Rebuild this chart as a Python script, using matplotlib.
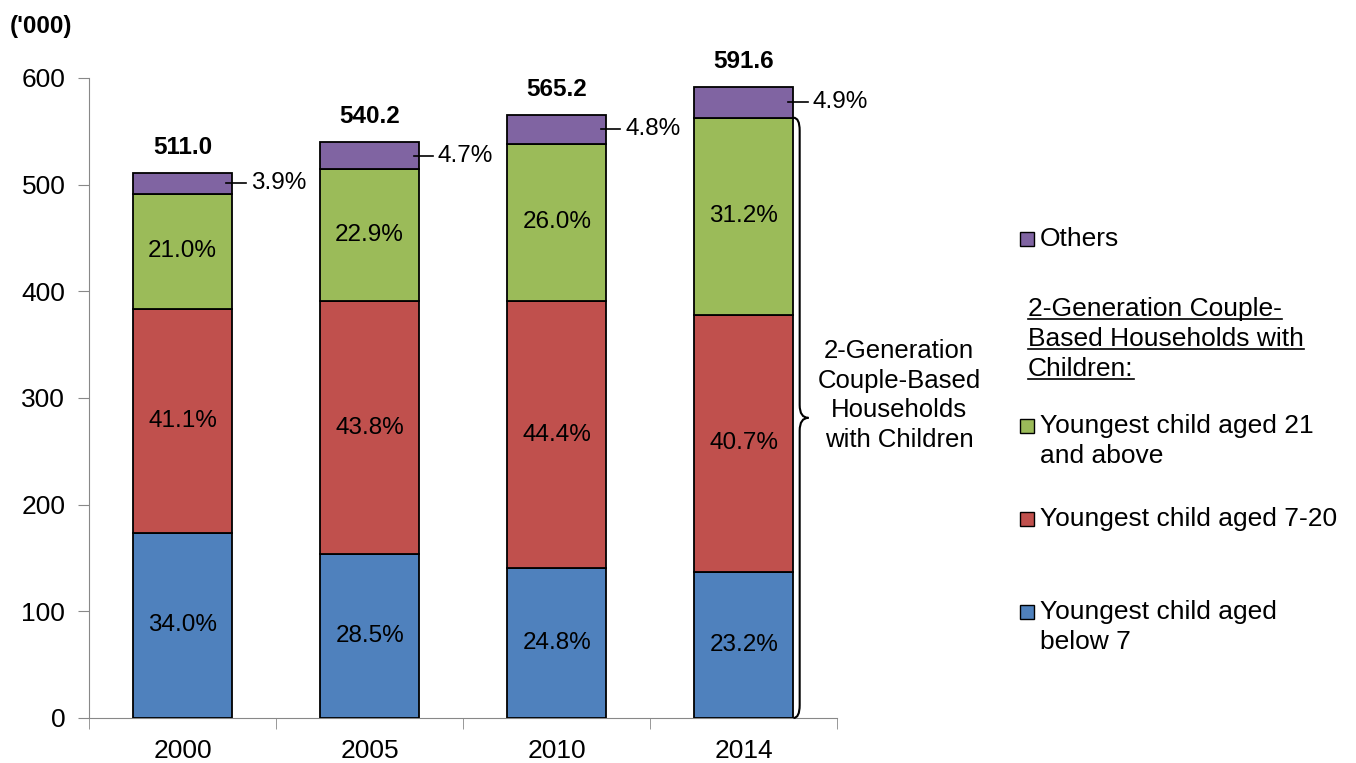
import numpy as np
import matplotlib.pyplot as plt
from matplotlib.path import Path
from matplotlib.patches import PathPatch, Rectangle

plt.rcParams['font.family'] = ['Liberation Sans', 'DejaVu Sans']

years = ['2000', '2005', '2010', '2014']
totals = [511.0, 540.2, 565.2, 591.6]
# shares in %
below7 = [34.0, 28.5, 24.8, 23.2]
aged7_20 = [41.1, 43.8, 44.4, 40.7]
aged21 = [21.0, 22.9, 26.0, 31.2]
others = [3.9, 4.7, 4.8, 4.9]

names = ['Youngest child aged\nbelow 7', 'Youngest child aged 7-20',
         'Youngest child aged 21\nand above', 'Others']
colors = ['#4F81BD', '#C0504D', '#9BBB59', '#8064A2']

fig = plt.figure(figsize=(13.56, 7.63), dpi=100)
ax = fig.add_axes([0.0656, 0.059, 0.552, 0.839])

x = np.arange(len(years))
w = 0.53
tot = np.array(totals)
bottom = np.zeros(len(years))
for i, pct in enumerate([below7, aged7_20, aged21, others]):
    vals = tot * np.array(pct) / 100
    ax.bar(x, vals, w, bottom=bottom, color=colors[i], edgecolor='black', linewidth=1.3, zorder=3)
    if i < 3:
        for xi, b, v, p in zip(x, bottom, vals, pct):
            ax.text(xi, b + v / 2, f'{p:.1f}%', ha='center', va='center', fontsize=17.5, zorder=4)
    else:
        for xi, b, v, p in zip(x, bottom, vals, pct):
            ym = b + v / 2
            ax.plot([xi + w / 2 - 0.03, xi + w / 2 + 0.075], [ym, ym], color='black', lw=1.2,
                    clip_on=False, zorder=4)
            ax.text(xi + w / 2 + 0.1, ym, f'{p:.1f}%', ha='left', va='center', fontsize=17.5)
    bottom += vals

for xi, t in zip(x, totals):
    ax.text(xi, t + 24, f'{t:.1f}', ha='center', va='center', fontsize=17.5, fontweight='bold')

ax.set_xlim(-0.5, 3.5)
ax.set_ylim(0, 600)
ax.set_yticks(range(0, 601, 100))
ax.set_xticks(x)
ax.set_xticklabels(years)
ax.set_xticks(np.arange(-0.5, 3.6, 1), minor=True)
ax.tick_params(axis='x', which='major', length=0, labelsize=19, pad=15)
ax.tick_params(axis='x', which='minor', length=8, color='#888888')
ax.tick_params(axis='y', length=8, color='#888888', labelsize=19, pad=9)
for s in ['top', 'right']:
    ax.spines[s].set_visible(False)
for s in ['left', 'bottom']:
    ax.spines[s].set_color('#888888')

fig.text(0.007, 0.965, "('000)", fontsize=17.5, fontweight='bold', ha='left', va='center')

# curly brace for the 2-generation households of 2014
top = tot[3] * (100 - others[3]) / 100
x0, x1, x2 = 3 + w / 2, 3.298, 3.345
r = 12
mid = top / 2
verts = [(x0, top), (x1, top), (x1, top - r),
         (x1, mid + r), (x1, mid), (x2, mid),
         (x1, mid), (x1, mid - r),
         (x1, r), (x1, 0), (x0, 0)]
codes = [Path.MOVETO, Path.CURVE3, Path.CURVE3,
         Path.LINETO, Path.CURVE3, Path.CURVE3,
         Path.CURVE3, Path.CURVE3,
         Path.LINETO, Path.CURVE3, Path.CURVE3]
ax.add_patch(PathPatch(Path(verts, codes), fc='none', ec='black', lw=1.5, clip_on=False, zorder=5))
ax.text(3.83, mid + 21, '2-Generation\nCouple-Based\nHouseholds\nwith Children', ha='center',
        va='center', fontsize=18.5, linespacing=1.3, clip_on=False)

# legend drawn by hand
W, H = 1356, 763
def fx(px):
    return px / W
def fy(py):
    return 1 - py / H

entries = [(3, 239), (2, 426), (1, 519), (0, 612)]
for idx, py in entries:
    fig.patches.append(Rectangle((fx(1020), fy(py + 7)), 14 / W, 14 / H, transform=fig.transFigure,
                                 facecolor=colors[idx], edgecolor='black', lw=1.0))
    for k, ln in enumerate(names[idx].split('\n')):
        fig.text(fx(1040), fy(py + 30 * k), ln, fontsize=19, ha='left', va='center')

heading = ['2-Generation Couple-', 'Based Households with', 'Children:']
htexts = []
for k, ln in enumerate(heading):
    htexts.append(fig.text(fx(1028), fy(309 + 30 * k), ln, fontsize=19, ha='left', va='center'))

fig.canvas.draw()
rend = fig.canvas.get_renderer()
for t in htexts:
    bb = t.get_window_extent(rend).transformed(fig.transFigure.inverted())
    yl = bb.y0 + 0.1 * (bb.y1 - bb.y0)
    fig.add_artist(plt.Line2D([bb.x0, bb.x1], [yl, yl], color='black', lw=1.2, transform=fig.transFigure))

fig.savefig('out.png', dpi=100)
